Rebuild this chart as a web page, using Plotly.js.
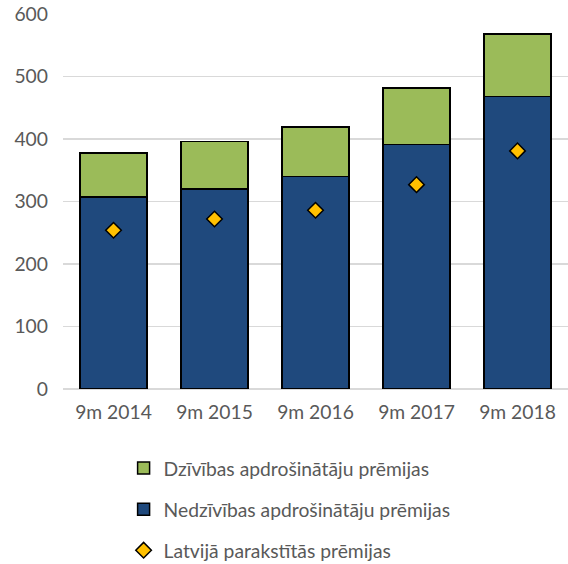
<!DOCTYPE html>
<html>
<head>
<meta charset="utf-8">
<script src="https://cdn.plot.ly/plotly-3.0.1.min.js"></script>
<style>html,body{margin:0;padding:0;background:#fff;}#chart{width:568px;height:564px;}</style>
</head>
<body>
<div id="chart"></div>
<script>
const categories = ["9m 2014", "9m 2015", "9m 2016", "9m 2017", "9m 2018"];
const nonLife = [307, 320, 340, 391, 468];
const life = [71, 76, 79, 91, 100];
const signedInLatvia = [254, 272, 286, 327, 381];
const seriesNames = ["Dzīvības apdrošinātāju prēmijas", "Nedzīvības apdrošinātāju prēmijas", "Latvijā parakstītās prēmijas"];

const font = "Lato, 'Open Sans', sans-serif";
const fs = 19.3;
const traces = [
  {type: "bar", x: categories, y: nonLife, name: seriesNames[1], legendrank: 2, legendgroup: "b",
   marker: {color: "#1F497D", line: {color: "#000000", width: 1.5}}, hoverinfo: "y"},
  {type: "bar", x: categories, y: life, name: seriesNames[0], legendrank: 1, legendgroup: "a",
   marker: {color: "#9BBB59", line: {color: "#000000", width: 1.5}}, hoverinfo: "y"},
  {type: "scatter", mode: "markers", x: categories, y: signedInLatvia, name: seriesNames[2], legendrank: 3, legendgroup: "c",
   marker: {symbol: "diamond", size: 12, color: "#FFC000", line: {color: "#000000", width: 1.5}}, hoverinfo: "y"}
];
const layout = {
  width: 568, height: 564,
  margin: {l: 63, r: 0, t: 14, b: 175, autoexpand: false},
  barmode: "stack", bargap: 0.34,
  paper_bgcolor: "#ffffff", plot_bgcolor: "#ffffff",
  font: {family: font, size: fs, color: "#595959"},
  showlegend: true,
  legend: {orientation: "v", x: 0.12, xanchor: "left", y: -0.16, yanchor: "top",
           traceorder: "grouped", tracegroupgap: 13, font: {family: font, size: fs, color: "#595959"},
           itemwidth: 30},
  xaxis: {type: "category", showgrid: false, showline: false, zeroline: false, ticks: "",
          tickfont: {family: font, size: fs, color: "#595959"}, ticklabelstandoff: 10},
  yaxis: {range: [0, 600], dtick: 100, showgrid: true, gridcolor: "#D9D9D9", gridwidth: 1.3,
          zeroline: true, zerolinecolor: "#D9D9D9", zerolinewidth: 1.3, showline: false, ticks: "",
          tickfont: {family: font, size: fs, color: "#595959"}, ticklabelstandoff: 14}
};
Plotly.newPlot("chart", traces, layout, {displayModeBar: false, staticPlot: true});
</script>
</body>
</html>
